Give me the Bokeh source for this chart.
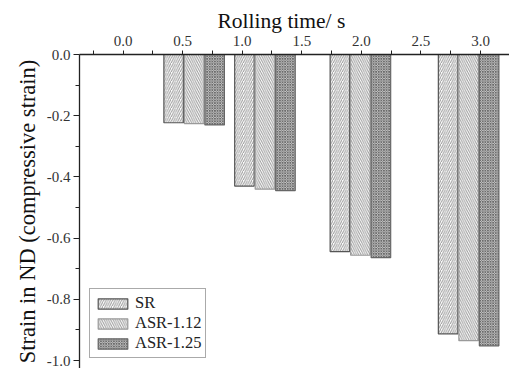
from bokeh.plotting import figure
from bokeh.models import (ColumnDataSource, Legend, LegendItem, FixedTicker,
                          PrintfTickFormatter, Range1d)
from bokeh.transform import dodge
from bokeh.embed import file_html
from bokeh.resources import INLINE

# ---- data ----
times = [0.597, 1.191, 1.992, 2.90]
sr = [-0.223, -0.430, -0.644, -0.913]
asr_112 = [-0.226, -0.440, -0.656, -0.935]
asr_125 = [-0.230, -0.445, -0.664, -0.952]
series_names = ["SR", "ASR-1.12", "ASR-1.25"]
x_ticks = [0.0, 0.5, 1.0, 1.5, 2.0, 2.5, 3.0]
y_ticks = [0.0, -0.2, -0.4, -0.6, -0.8, -1.0]

FONT = "Liberation Serif"

src = ColumnDataSource(dict(t=times, sr=sr, a112=asr_112, a125=asr_125))

p = figure(width=509, height=368,
           x_range=Range1d(-0.365, 3.243), y_range=Range1d(-1.026, 0.0),
           x_axis_location="above",
           output_backend="svg", toolbar_location=None,
           min_border_left=79, min_border_top=54,
           min_border_right=0, min_border_bottom=0)
p.outline_line_color = None
p.grid.visible = False
p.background_fill_color = "white"

# x-axis title (placed as plot title so it can sit left of the frame centre)
p.title.text = "Rolling time/ s"
p.title.align = "left"
p.title.offset = 138
p.title.text_font = FONT
p.title.text_font_size = "21.5px"
p.title.text_font_style = "normal"
p.title.text_color = "#111111"
p.title.standoff = 0

bw = 0.164
off = 0.172
styles = [
    dict(col="sr", dx=-off, hatch="/", hcol="#9a9a9a", fill="white", line="#555555", scale=4.5, w=1.0),
    dict(col="a112", dx=0.0, hatch="\\", hcol="#9a9a9a", fill="white", line="#9a9a9a", scale=4.5, w=1.0),
    dict(col="a125", dx=off, hatch="x", hcol="#6a6a6a", fill="#d8d8d8", line="#666666", scale=2.6, w=0.9),
]
renderers = []
for s in styles:
    r = p.vbar(x=dodge("t", s["dx"]), top=0.0, bottom=s["col"], width=bw, source=src,
               fill_color=s["fill"], line_color=s["line"], line_width=1.2,
               hatch_pattern=s["hatch"], hatch_color=s["hcol"],
               hatch_scale=s["scale"], hatch_weight=s["w"])
    renderers.append(r)

# axes
xa = p.xaxis[0]
xa.ticker = FixedTicker(ticks=x_ticks,
                        minor_ticks=[-0.25, 0.25, 0.75, 1.25, 1.75, 2.25, 2.75, 3.25])
xa.formatter = PrintfTickFormatter(format="%.1f")
ya = p.yaxis[0]
ya.axis_label = "Strain in ND (compressive strain)"
ya.ticker = FixedTicker(ticks=y_ticks,
                        minor_ticks=[-0.1, -0.3, -0.5, -0.7, -0.9])
ya.formatter = PrintfTickFormatter(format="%.1f")

for ax in (xa, ya):
    ax.axis_line_color = "#222222"
    ax.axis_line_width = 1.3
    ax.major_tick_line_color = "#222222"
    ax.minor_tick_line_color = "#222222"
    ax.major_tick_in = 0
    ax.major_tick_out = 6
    ax.minor_tick_in = 0
    ax.minor_tick_out = 4
    ax.major_label_text_font = FONT
    ax.major_label_text_font_size = "15px"
    ax.major_label_text_color = "#333333"
    ax.axis_label_text_font = FONT
    ax.axis_label_text_font_style = "normal"
    ax.axis_label_text_color = "#111111"
    ax.major_label_standoff = 3

ya.axis_label_text_font_size = "22.5px"
ya.axis_label_standoff = 4
xa.major_tick_out = 4
xa.major_label_standoff = 5

legend = Legend(items=[LegendItem(label=n, renderers=[r]) for n, r in zip(series_names, renderers)],
                location="bottom_left")
legend.label_text_font = FONT
legend.label_text_font_size = "16.5px"
legend.label_text_color = "#222222"
legend.glyph_width = 37
legend.glyph_height = 13
legend.label_height = 14
legend.label_standoff = 4
legend.spacing = -3
legend.padding = 4
legend.margin = 10
legend.border_line_color = "#555555"
legend.border_line_width = 1
legend.background_fill_alpha = 1.0
p.add_layout(legend)

open("out.html", "w").write(file_html(p, INLINE))
